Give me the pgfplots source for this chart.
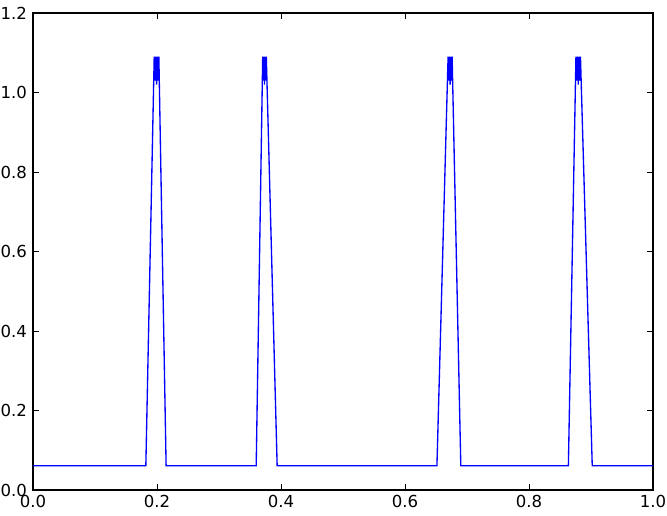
\documentclass[border=0pt]{standalone}
\usepackage{fontspec}
\setmainfont{DejaVu Sans}
\usepackage{pgfplots}
\pgfplotsset{compat=1.18}
\begin{document}
\begin{tikzpicture}
\useasboundingbox (-24.75pt,-19.5pt) rectangle (475.5pt,367.5pt);
\begin{axis}[
  scale only axis,
  width=465pt, height=357.75pt,
  xmin=0, xmax=1, ymin=0, ymax=1.2,
  xtick={0,0.2,0.4,0.6,0.8,1.0},
  ytick={0,0.2,0.4,0.6,0.8,1.0,1.2},
  tick align=inside,
  tick pos=both,
  major tick length=4.2pt,
  every tick/.style={black, line width=0.52pt},
  axis line style={black, line width=1pt},
  tick label style={font=\fontsize{12.4}{14}\selectfont},
  xticklabel style={yshift=-0.5pt},
  yticklabel style={xshift=-1pt},
  /pgf/number format/assume math mode=true,
  /pgf/number format/.cd, fixed, fixed zerofill, precision=1,
]
\addplot[blue, line width=1pt, line join=miter] coordinates {
(0,0.061) (0.182,0.061)
(0.1955,1.09) (0.1963,1.03) (0.1970,1.09) (0.1978,1.03) (0.1985,1.09) (0.1993,1.02) (0.2000,1.09) (0.2008,1.03) (0.2015,1.09) (0.2023,1.03) (0.2030,1.09)
(0.2147,0.061)
(0.360,0.061)
(0.3705,1.09) (0.3711,1.03) (0.3717,1.09) (0.3723,1.03) (0.3729,1.09) (0.3734,1.02) (0.3740,1.09) (0.3746,1.03) (0.3752,1.09) (0.3758,1.03) (0.3763,1.09)
(0.3938,0.061)
(0.6515,0.061)
(0.6695,1.09) (0.6702,1.03) (0.6708,1.09) (0.6715,1.03) (0.6721,1.09) (0.6728,1.02) (0.6734,1.09) (0.6741,1.03) (0.6747,1.09) (0.6754,1.03) (0.6760,1.09)
(0.690,0.061)
(0.8635,0.061)
(0.8757,1.09) (0.8764,1.03) (0.8772,1.09) (0.8779,1.03) (0.8786,1.09) (0.8794,1.02) (0.8801,1.09) (0.8808,1.03) (0.8816,1.09) (0.8823,1.03) (0.8830,1.09)
(0.902,0.061)
(1,0.061)
};
\end{axis}
\end{tikzpicture}
\end{document}
